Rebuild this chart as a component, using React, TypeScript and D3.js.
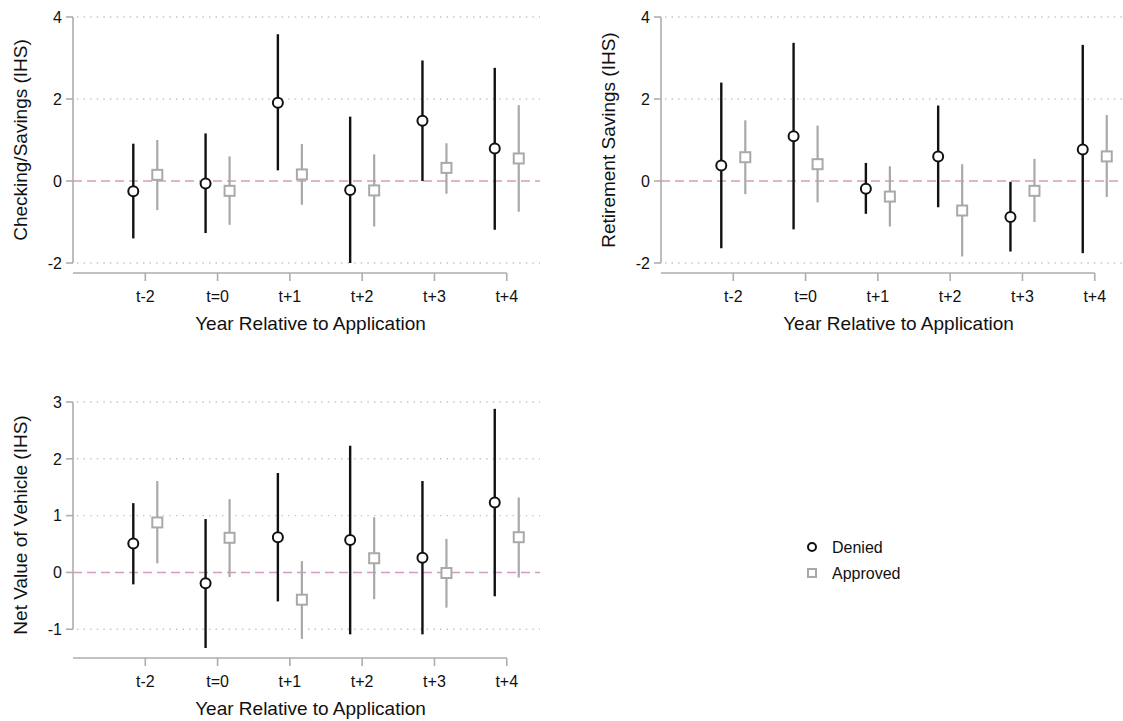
import React, { useEffect, useRef } from 'react'
import * as d3 from 'd3'

// event-time categories
const periods = ['t-2', 't=0', 't+1', 't+2', 't+3', 't+4']

// Checking/Savings (IHS)
const checkingDenied = [-0.25, -0.06, 1.91, -0.22, 1.47, 0.79]
const checkingDeniedLo = [-1.40, -1.27, 0.26, -2.0, 0.0, -1.19]
const checkingDeniedHi = [0.91, 1.16, 3.58, 1.57, 2.94, 2.76]
const checkingApproved = [0.15, -0.24, 0.16, -0.23, 0.32, 0.55]
const checkingApprovedLo = [-0.71, -1.07, -0.58, -1.11, -0.31, -0.75]
const checkingApprovedHi = [1.0, 0.60, 0.90, 0.65, 0.92, 1.85]

// Retirement Savings (IHS)
const retireDenied = [0.38, 1.09, -0.19, 0.60, -0.88, 0.77]
const retireDeniedLo = [-1.64, -1.18, -0.80, -0.64, -1.72, -1.76]
const retireDeniedHi = [2.40, 3.37, 0.44, 1.84, -0.02, 3.32]
const retireApproved = [0.58, 0.41, -0.38, -0.72, -0.24, 0.60]
const retireApprovedLo = [-0.32, -0.52, -1.11, -1.84, -1.0, -0.39]
const retireApprovedHi = [1.48, 1.35, 0.36, 0.41, 0.54, 1.61]

// Net Value of Vehicle (IHS)
const vehicleDenied = [0.51, -0.19, 0.62, 0.57, 0.26, 1.23]
const vehicleDeniedLo = [-0.21, -1.33, -0.51, -1.09, -1.09, -0.42]
const vehicleDeniedHi = [1.22, 0.94, 1.75, 2.23, 1.61, 2.88]
const vehicleApproved = [0.88, 0.61, -0.48, 0.25, -0.01, 0.62]
const vehicleApprovedLo = [0.16, -0.08, -1.17, -0.47, -0.62, -0.09]
const vehicleApprovedHi = [1.61, 1.29, 0.20, 0.97, 0.59, 1.32]

const ticksTop = [-2, 0, 2, 4]
const ticksVehicle = [-1, 0, 1, 2, 3]

const legendLabels = ['Denied', 'Approved']

const FONT = '"Liberation Sans", Arial, Helvetica, sans-serif'
const AXIS_GREY = '#adadad'
const DENIED = '#111111'
const APPROVED = '#a9a9a9'
const ZERO_LINE = '#d39cc0'

const panels = [
    {
        label: 'Checking/Savings (IHS)', x0: 73, top: 17, ticks: ticksTop,
        denied: [checkingDenied, checkingDeniedLo, checkingDeniedHi],
        approved: [checkingApproved, checkingApprovedLo, checkingApprovedHi]
    },
    {
        label: 'Retirement Savings (IHS)', x0: 661, top: 17, ticks: ticksTop,
        denied: [retireDenied, retireDeniedLo, retireDeniedHi],
        approved: [retireApproved, retireApprovedLo, retireApprovedHi]
    },
    {
        label: 'Net Value of Vehicle (IHS)', x0: 73, top: 402, ticks: ticksVehicle,
        denied: [vehicleDenied, vehicleDeniedLo, vehicleDeniedHi],
        approved: [vehicleApproved, vehicleApprovedLo, vehicleApprovedHi]
    }
]

function App() {
    const ref = useRef<SVGSVGElement>(null)

    useEffect(() => {
        const svg = d3.select(ref.current)
        svg.selectAll('*').remove()

        const width = 467
        const plotH = 246
        const offset = 0.166

        panels.forEach(p => {
            const g = svg.append('g')

            const allLo = [...p.denied[1], ...p.approved[1], ...p.ticks]
            const allHi = [...p.denied[2], ...p.approved[2], ...p.ticks]
            const yMin = d3.min(allLo) as number
            const yMax = d3.max(allHi) as number

            const x = d3.scaleLinear().domain([0, 6.46]).range([p.x0, p.x0 + width])
            const y = d3.scaleLinear().domain([yMin, yMax]).range([p.top + plotH, p.top])

            // dotted grid
            g.selectAll('.grid')
                .data(p.ticks.filter(t => t !== 0))
                .join('line')
                .attr('x1', p.x0 + 4)
                .attr('x2', p.x0 + width)
                .attr('y1', d => y(d))
                .attr('y2', d => y(d))
                .attr('stroke', '#c4c4c4')
                .attr('stroke-width', 1.4)
                .attr('stroke-dasharray', '1.4 5.2')

            // zero reference line
            g.append('line')
                .attr('x1', p.x0)
                .attr('x2', p.x0 + width)
                .attr('y1', y(0))
                .attr('y2', y(0))
                .attr('stroke', ZERO_LINE)
                .attr('stroke-width', 1.6)
                .attr('stroke-dasharray', '9 5')

            // y axis
            const yAxis = g.append('g')
            yAxis.append('line')
                .attr('x1', p.x0).attr('x2', p.x0)
                .attr('y1', y(d3.max(p.ticks) as number))
                .attr('y2', y(d3.min(p.ticks) as number))
                .attr('stroke', AXIS_GREY).attr('stroke-width', 1.6)
            yAxis.selectAll('.ytick')
                .data(p.ticks)
                .join('line')
                .attr('x1', p.x0 - 7).attr('x2', p.x0)
                .attr('y1', d => y(d)).attr('y2', d => y(d))
                .attr('stroke', AXIS_GREY).attr('stroke-width', 1.6)
            yAxis.selectAll('.ylab')
                .data(p.ticks)
                .join('text')
                .attr('x', p.x0 - 11)
                .attr('y', d => y(d))
                .attr('dy', '0.36em')
                .attr('text-anchor', 'end')
                .attr('font-size', 16)
                .attr('font-family', FONT)
                .attr('fill', '#111')
                .text(d => d)

            g.append('text')
                .attr('transform', `translate(${p.x0 - 53},${p.top + plotH / 2}) rotate(-90)`)
                .attr('dy', '0.36em')
                .attr('text-anchor', 'middle')
                .attr('font-size', 19)
                .attr('font-family', FONT)
                .attr('fill', '#111')
                .text(p.label)

            // x axis
            const axisY = p.top + plotH + 10
            const xAxis = g.append('g')
            xAxis.append('line')
                .attr('x1', x(0)).attr('x2', x(periods.length))
                .attr('y1', axisY).attr('y2', axisY)
                .attr('stroke', AXIS_GREY).attr('stroke-width', 1.6)
            xAxis.selectAll('.xtick')
                .data(periods)
                .join('line')
                .attr('x1', (d, i) => x(i + 1)).attr('x2', (d, i) => x(i + 1))
                .attr('y1', axisY).attr('y2', axisY + 8)
                .attr('stroke', AXIS_GREY).attr('stroke-width', 1.6)
            xAxis.selectAll('.xlab')
                .data(periods)
                .join('text')
                .attr('x', (d, i) => x(i + 1))
                .attr('y', axisY + 29)
                .attr('text-anchor', 'middle')
                .attr('font-size', 16)
                .attr('font-family', FONT)
                .attr('fill', '#111')
                .text(d => d)

            g.append('text')
                .attr('x', p.x0 + width / 2 + 4)
                .attr('y', axisY + 57)
                .attr('text-anchor', 'middle')
                .attr('font-size', 19)
                .attr('font-family', FONT)
                .attr('fill', '#111')
                .text('Year Relative to Application')

            // confidence intervals
            const series = [
                { vals: p.denied, shift: -offset, color: DENIED, w: 2.4 },
                { vals: p.approved, shift: offset, color: APPROVED, w: 2.2 }
            ]
            series.forEach(s => {
                const [est, lo, hi] = s.vals
                g.append('g')
                    .selectAll('line')
                    .data(est)
                    .join('line')
                    .attr('x1', (d, i) => x(i + 1 + s.shift))
                    .attr('x2', (d, i) => x(i + 1 + s.shift))
                    .attr('y1', (d, i) => y(lo[i]))
                    .attr('y2', (d, i) => y(hi[i]))
                    .attr('stroke', s.color)
                    .attr('stroke-width', s.w)
            })

            // point estimates
            g.append('g')
                .selectAll('circle')
                .data(p.denied[0])
                .join('circle')
                .attr('cx', (d, i) => x(i + 1 - offset))
                .attr('cy', d => y(d))
                .attr('r', 5)
                .attr('fill', 'white')
                .attr('stroke', DENIED)
                .attr('stroke-width', 2)

            g.append('g')
                .selectAll('rect')
                .data(p.approved[0])
                .join('rect')
                .attr('x', (d, i) => x(i + 1 + offset) - 5)
                .attr('y', d => y(d) - 5)
                .attr('width', 10)
                .attr('height', 10)
                .attr('fill', 'white')
                .attr('stroke', APPROVED)
                .attr('stroke-width', 2)
        })

        // legend
        const legend = svg.append('g').attr('transform', 'translate(812,547)')
        legend.append('circle')
            .attr('cx', 0).attr('cy', 0).attr('r', 4)
            .attr('fill', 'white').attr('stroke', DENIED).attr('stroke-width', 2)
        legend.append('rect')
            .attr('x', -4).attr('y', 22).attr('width', 8).attr('height', 8)
            .attr('fill', 'white').attr('stroke', APPROVED).attr('stroke-width', 2)
        legend.selectAll('text')
            .data(legendLabels)
            .join('text')
            .attr('x', 20)
            .attr('y', (d, i) => i * 26)
            .attr('dy', '0.36em')
            .attr('font-size', 16)
            .attr('font-family', FONT)
            .attr('fill', '#111')
            .text(d => d)
    }, [])

    return (
        <svg ref={ref} width={1123} height={721}
            style={{ position: 'absolute', left: 0, top: 0, background: 'white' }} />
    )
}

export default App
